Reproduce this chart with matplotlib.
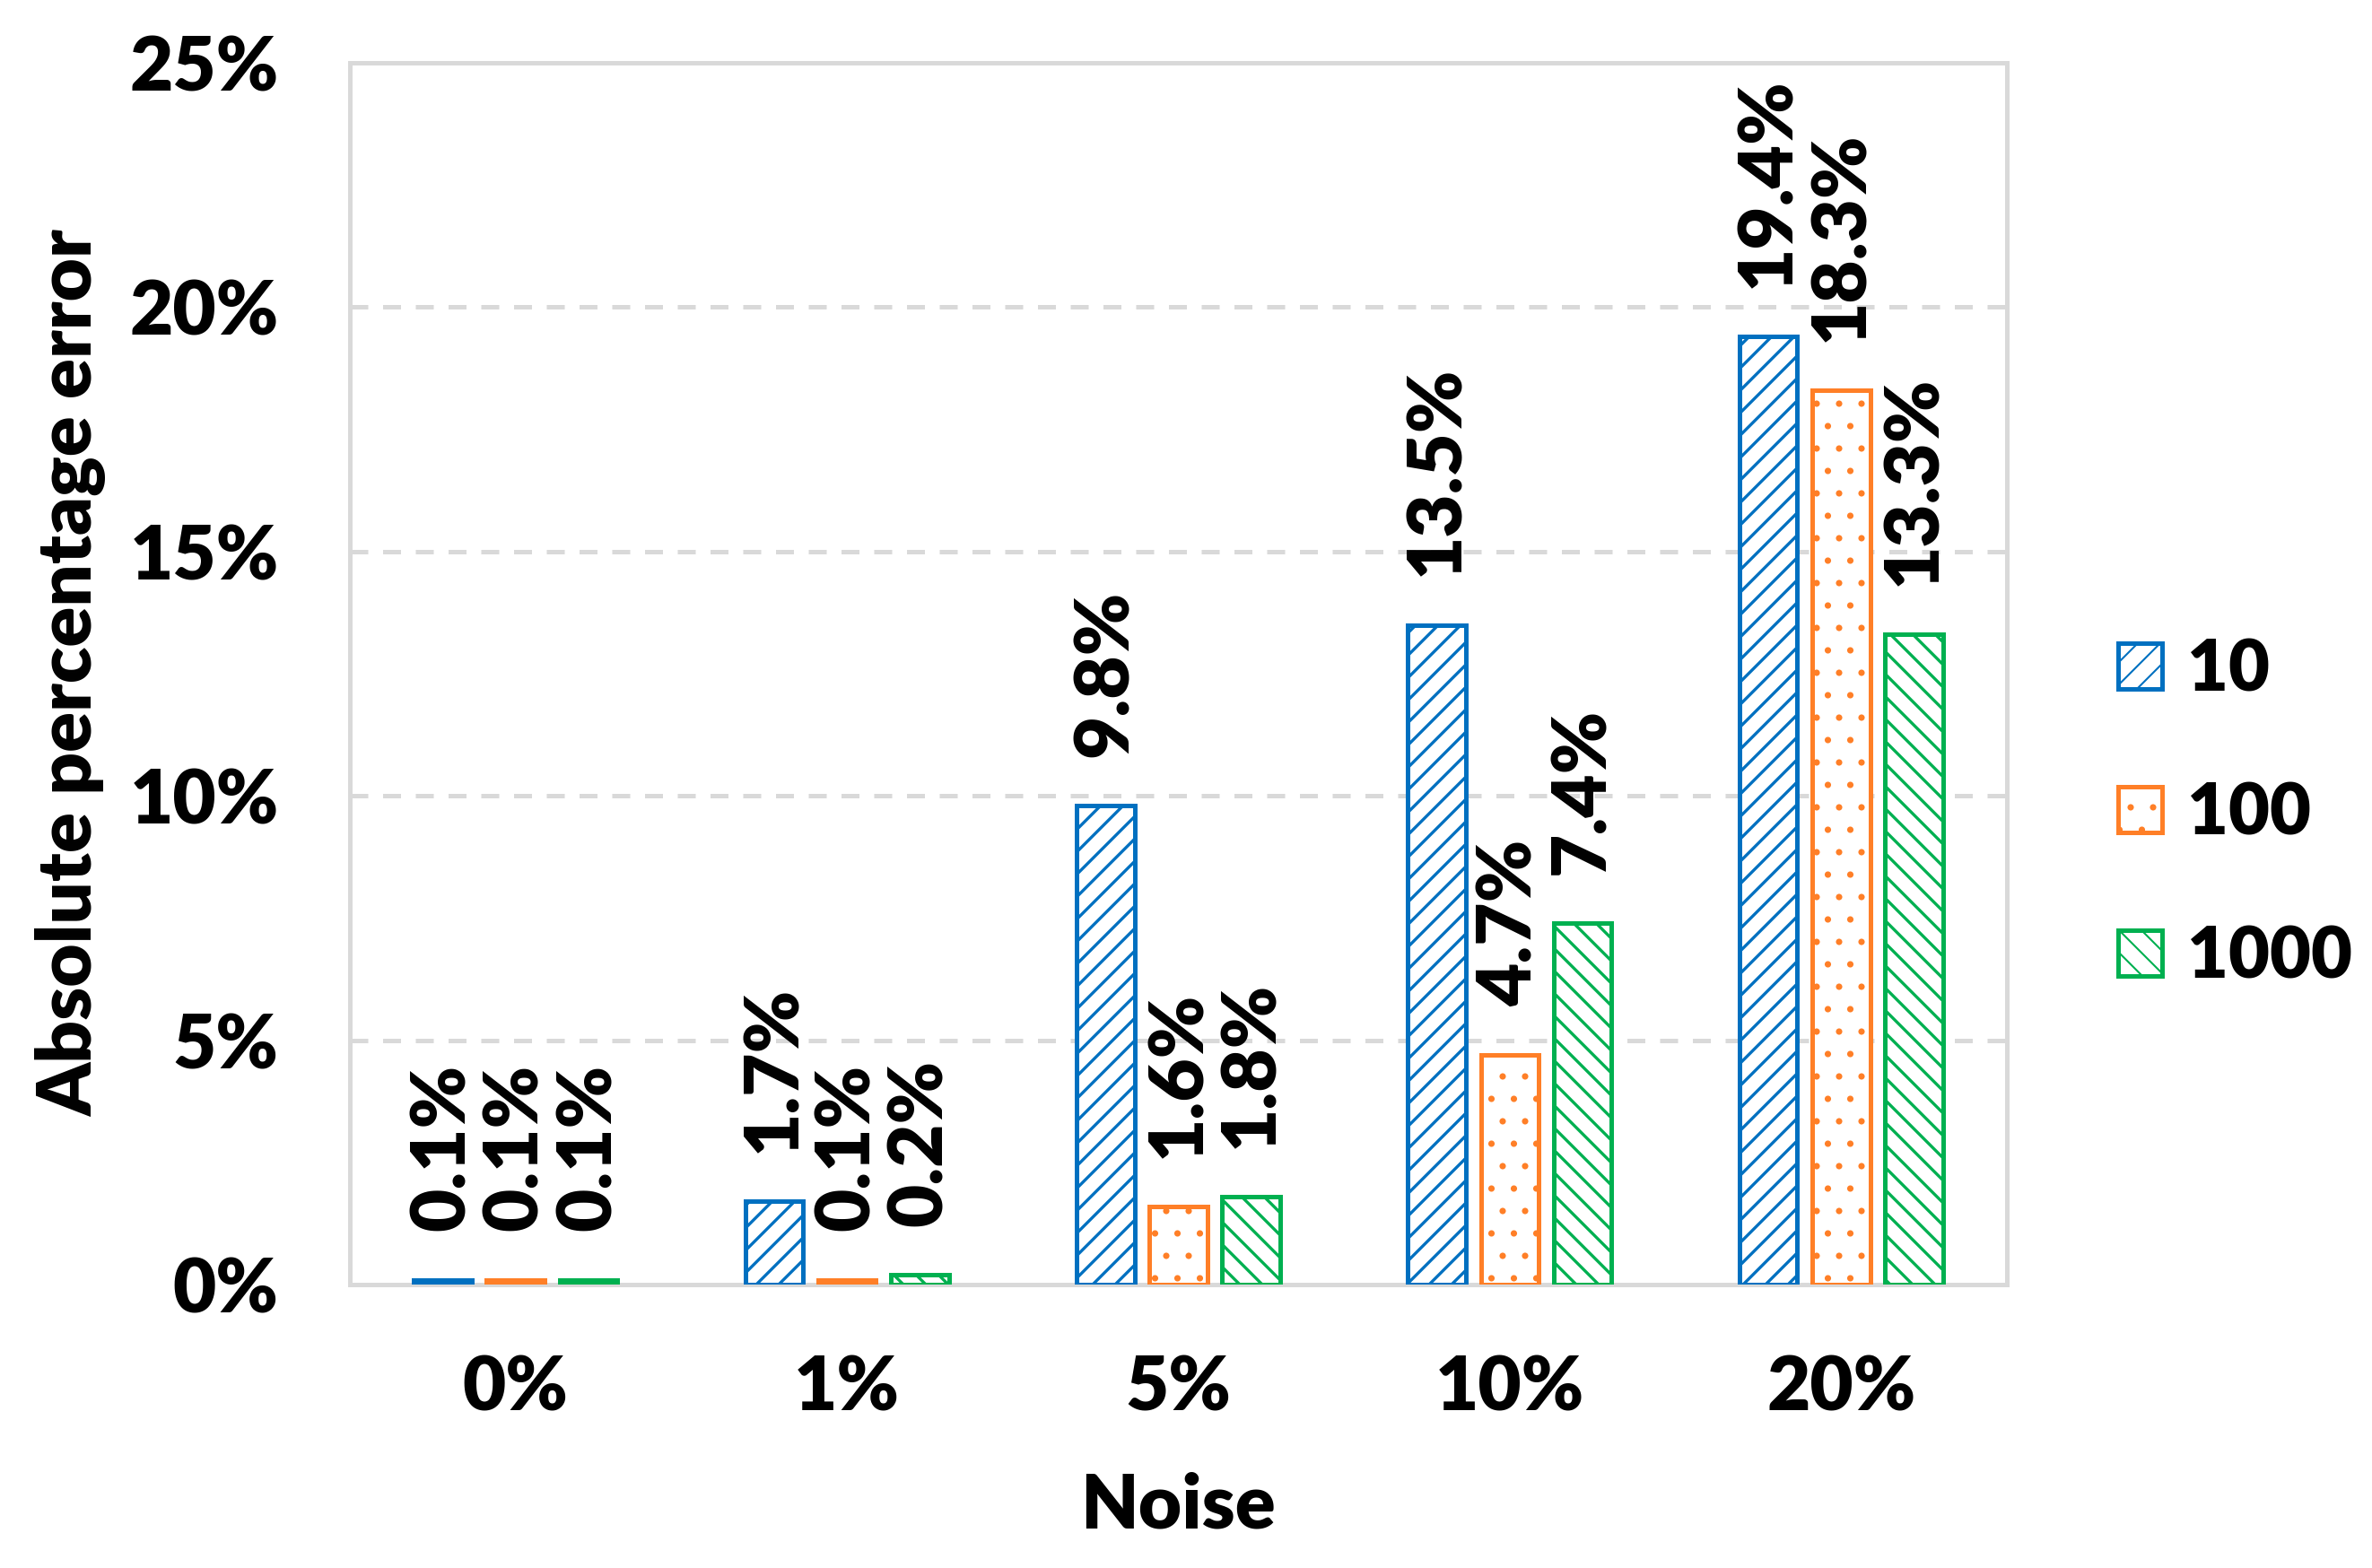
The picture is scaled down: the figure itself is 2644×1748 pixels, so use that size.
import matplotlib
matplotlib.use("Agg")
import matplotlib.pyplot as plt
import numpy as np

categories = ["0%", "1%", "5%", "10%", "20%"]
series_names = ["10", "100", "1000"]
vals_10 = [0.1, 1.7, 9.8, 13.5, 19.4]
vals_100 = [0.1, 0.1, 1.6, 4.7, 18.3]
vals_1000 = [0.1, 0.2, 1.8, 7.4, 13.3]
y_ticks = [0, 5, 10, 15, 20, 25]

colors = ["#0070C0", "#FF7F27", "#00B050"]
hatches = ["//", ".", "\\\\"]
hatch_lw = [1.6, 1.0, 1.6]

WEIGHT = "heavy"
plt.rcParams['font.family'] = ['Lato', 'DejaVu Sans']
plt.rcParams['font.weight'] = WEIGHT

DPI = 150
fig = plt.figure(figsize=(2644 / DPI, 1748 / DPI), dpi=DPI)
ax = fig.add_axes([390 / 2644, 1 - 1432 / 1748, (2237 - 390) / 2644, (1432 - 70) / 1748])

x = np.arange(len(categories))
width = 0.175
step = 0.22
FS = 40
all_vals = [vals_10, vals_100, vals_1000]
for i, (vals, name) in enumerate(zip(all_vals, series_names)):
    pos = x + (i - 1) * step
    with plt.rc_context({'hatch.linewidth': hatch_lw[i]}):
        ax.bar(pos, vals, width, facecolor="white", edgecolor=colors[i],
               hatch=hatches[i], linewidth=2.4, label=name, zorder=3)
    for xp, v in zip(pos, vals):
        ax.annotate(f"{v:.1f}%", (xp, v), xytext=(0, 26), textcoords="offset points",
                    rotation=90, ha="center", va="bottom", fontsize=FS,
                    fontweight=WEIGHT, color="black", zorder=4)

ax.set_xlim(-0.5, len(categories) - 0.5)
ax.set_ylim(0, 25)
ax.set_yticks(y_ticks)
ax.set_yticklabels([f"{t}%" for t in y_ticks])
ax.set_xticks(x)
ax.set_xticklabels(categories)
ax.tick_params(axis="both", length=0, labelsize=FS)
ax.tick_params(axis="y", pad=38)
ax.tick_params(axis="x", pad=37)
for lab in ax.get_xticklabels() + ax.get_yticklabels():
    lab.set_fontweight(WEIGHT)

ax.yaxis.grid(True, color="#D9D9D9", linewidth=2.4, linestyle=(0, (4, 3.3)), zorder=0)
ax.set_axisbelow(True)
for s in ax.spines.values():
    s.set_color("#D9D9D9")
    s.set_linewidth(2.4)

ax.set_xlabel("Noise", fontsize=FS, fontweight=WEIGHT, labelpad=26)
ax.set_ylabel("Absolute percentage error", fontsize=FS, fontweight=WEIGHT, labelpad=12)

leg = fig.legend(loc="center left", bbox_to_anchor=(2361 / 2644, 1 - 907 / 1748),
                 frameon=False, fontsize=38, handlelength=0.62, handleheight=0.62,
                 handletextpad=0.35, labelspacing=1.1, borderpad=0, borderaxespad=0)
for t in leg.get_texts():
    t.set_fontweight(WEIGHT)

fig.savefig("out.png", dpi=DPI)
